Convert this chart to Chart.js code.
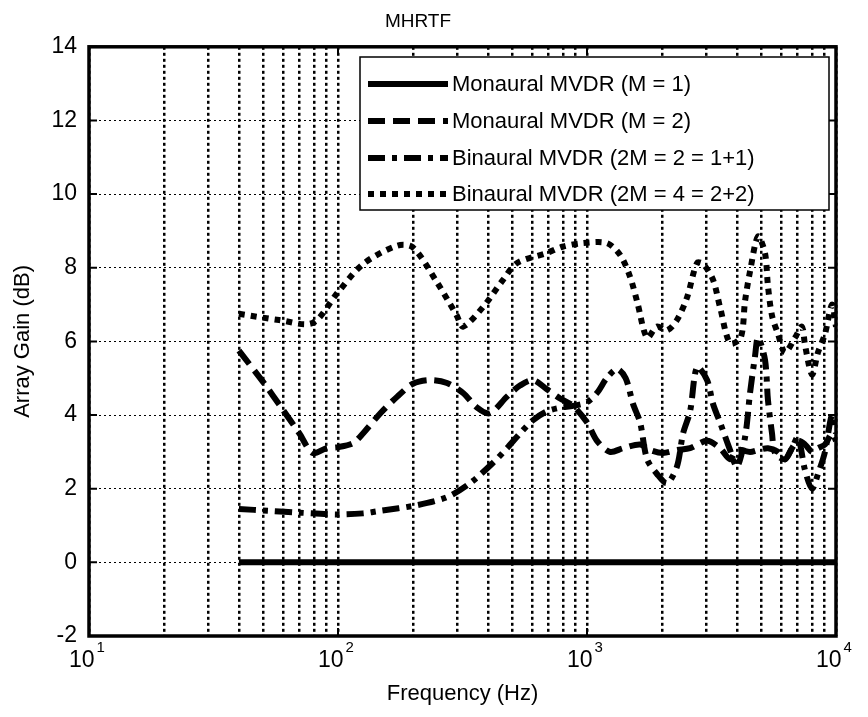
<!DOCTYPE html>
<html lang="en">
<head>
    <meta charset="UTF-8">
    <title>MHRTF</title>
    <script src="https://cdn.jsdelivr.net/npm/chart.js"></script>
    <style>
        body {
            margin: 0;
            background: #ffffff;
        }

        .chart-container {
            width: 868px;
            height: 717px;
            position: relative;
        }
    </style>
</head>
<body>
    <div class="chart-container">
        <canvas id="gainChart"></canvas>
    </div>

    <script>
        // values (frequency in Hz, gain in dB)
        const seriesLabels = [
            'Monaural MVDR (M = 1)',
            'Monaural MVDR (M = 2)',
            'Binaural MVDR (2M = 2 = 1+1)',
            'Binaural MVDR (2M = 4 = 2+2)'
        ];

        const freqM1 = [40, 10000];
        const gainM1 = [0, 0];

        const freqM2 = [40, 50, 60, 70, 79, 90, 100, 115, 126, 148, 173, 200, 234, 274, 318, 362, 407, 477, 538, 607,
            690, 780, 879, 1000, 1097, 1236, 1396, 1634, 1791, 2019, 2297, 2594, 3034, 3422, 3753, 4003, 4516, 4862,
            5331, 5848, 6240, 6656, 7035, 7509, 8010, 8466, 9031, 9633, 10000];
        const gainM2 = [5.75, 4.9, 4.15, 3.5, 2.97, 3.1, 3.13, 3.24, 3.5, 4.05, 4.5, 4.85, 4.95, 4.87, 4.6, 4.2, 4.05, 4.5, 4.8, 4.95,
            4.7, 4.45, 4.25, 3.8, 3.3, 3.0, 3.1, 3.2, 3.05, 2.97, 3.05, 3.1, 3.3, 3.1, 2.8, 3.05, 3.0, 3.05,
            3.1, 3.0, 2.8, 3.1, 3.3, 3.2, 3.0, 3.1, 3.2, 3.5, 3.3];

        const freqB2 = [40, 53, 70, 100, 126, 148, 207, 274, 339, 419, 477, 538, 607, 690, 780, 879, 1000, 1097, 1200, 1320,
            1430, 1531, 1634, 1743, 1910, 2095, 2297, 2431, 2594, 2767, 3034, 3208, 3422, 3753, 4003, 4313, 4516, 4729,
            4862, 5186, 5331, 5534, 5689, 6240, 6656, 7035, 7509, 8010, 8466, 9031, 9633, 10000];
        const gainB2 = [1.45, 1.4, 1.35, 1.3, 1.33, 1.4, 1.55, 1.77, 2.15, 2.7, 3.1, 3.5, 3.86, 4.1, 4.2, 4.25, 4.35, 4.6, 5.0, 5.25,
            5.0, 4.3, 3.8, 2.8, 2.4, 2.15, 2.6, 3.5, 4.1, 5.3, 4.95, 4.3, 3.8, 3.05, 2.6, 3.4, 4.6, 5.6,
            6.1, 5.5, 4.4, 3.5, 2.97, 2.8, 3.1, 3.4, 2.5, 2.0, 2.4, 3.0, 4.0, 3.5];

        const freqB4 = [40, 58, 79, 99, 126, 173, 200, 250, 300, 318, 382, 460, 524, 690, 797, 963, 1200, 1358, 1490, 1594,
            1743, 1910, 2095, 2297, 2524, 2767, 2930, 3208, 3422, 3753, 4143, 4313, 4516, 4862, 5186, 5331, 5534, 5848,
            6240, 6845, 7297, 7509, 8010, 8466, 9031, 9633, 10000];
        const gainB4 = [6.75, 6.58, 6.5, 7.3, 8.1, 8.6, 8.55, 7.6, 6.7, 6.4, 6.93, 7.67, 8.13, 8.4, 8.57, 8.67, 8.67, 8.35, 7.75, 7.05,
            6.1, 6.4, 6.3, 6.58, 7.2, 8.13, 8.1, 7.67, 6.93, 5.95, 6.1, 7.1, 7.9, 8.85, 8.4, 7.5, 6.7, 6.2,
            5.7, 6.1, 6.4, 5.9, 5.1, 5.7, 6.2, 7.0, 6.4];

        // tick labels
        const decades = [10, 100, 1000, 10000];
        const decadeExponents = ['1', '2', '3', '4'];
        const yTicks = [-2, 0, 2, 4, 6, 8, 10, 12, 14];

        const FONT = "Arial, 'Liberation Sans', Helvetica, sans-serif";

        // every 1..9 x decade gets a grid line
        const xGridValues = [];
        decades.forEach((d, i) => {
            if (i === decades.length - 1) {
                xGridValues.push(d);
                return;
            }
            for (let m = 1; m <= 9; m++) xGridValues.push(d * m);
        });

        function toPoints(freqs, gains) {
            return freqs.map((f, i) => ({ x: f, y: gains[i] }));
        }

        // frame, inward ticks, 10^n labels and the legend box
        const matlabAxes = {
            id: 'matlabAxes',
            afterDraw(chart) {
                const ctx = chart.ctx;
                const area = chart.chartArea;
                const xs = chart.scales.x;
                const ys = chart.scales.y;

                ctx.save();
                ctx.strokeStyle = '#000';

                // small inward tick marks
                ctx.lineWidth = 2;
                ctx.beginPath();
                yTicks.forEach(v => {
                    const py = ys.getPixelForValue(v);
                    ctx.moveTo(area.left, py);
                    ctx.lineTo(area.left + 8, py);
                    ctx.moveTo(area.right, py);
                    ctx.lineTo(area.right - 8, py);
                });
                decades.forEach(v => {
                    const px = xs.getPixelForValue(v);
                    ctx.moveTo(px, area.bottom);
                    ctx.lineTo(px, area.bottom - 8);
                    ctx.moveTo(px, area.top);
                    ctx.lineTo(px, area.top + 8);
                });
                ctx.stroke();

                // box
                ctx.lineWidth = 3.5;
                ctx.strokeRect(area.left, area.top, area.right - area.left, area.bottom - area.top);

                // x labels with exponents
                ctx.fillStyle = '#000';
                ctx.textBaseline = 'middle';
                decades.forEach((v, i) => {
                    const px = xs.getPixelForValue(v);
                    ctx.font = '23px ' + FONT;
                    const wBase = ctx.measureText('10').width;
                    ctx.font = '15px ' + FONT;
                    const wExp = ctx.measureText(decadeExponents[i]).width;
                    const start = px - 2 - (wBase + 2 + wExp) / 2;
                    ctx.font = '23px ' + FONT;
                    ctx.textAlign = 'left';
                    ctx.fillText('10', start, area.bottom + 25);
                    ctx.font = '15px ' + FONT;
                    ctx.fillText(decadeExponents[i], start + wBase + 2, area.bottom + 12);
                });

                // legend
                const box = { left: 360, top: 57, right: 829, bottom: 210 };
                ctx.fillStyle = '#fff';
                ctx.fillRect(box.left, box.top, box.right - box.left, box.bottom - box.top);
                ctx.lineWidth = 1.5;
                ctx.strokeRect(box.left, box.top, box.right - box.left, box.bottom - box.top);
                const rowY = [84, 121, 158, 194];
                chart.data.datasets.forEach((ds, i) => {
                    ctx.save();
                    ctx.lineWidth = ds.borderWidth;
                    ctx.setLineDash(ds.borderDash || []);
                    ctx.beginPath();
                    ctx.moveTo(368, rowY[i]);
                    ctx.lineTo(448, rowY[i]);
                    ctx.stroke();
                    ctx.restore();
                    ctx.fillStyle = '#000';
                    ctx.font = '22px ' + FONT;
                    ctx.textAlign = 'left';
                    ctx.textBaseline = 'middle';
                    ctx.fillText(ds.label, 452, rowY[i] + 1);
                });

                ctx.restore();
            }
        };

        const lineStyles = [
            { borderDash: [] },
            { borderDash: [17, 8] },
            { borderDash: [17, 7, 5, 7] },
            { borderDash: [6, 6] }
        ];
        const seriesPoints = [
            toPoints(freqM1, gainM1),
            toPoints(freqM2, gainM2),
            toPoints(freqB2, gainB2),
            toPoints(freqB4, gainB4)
        ];

        const chart = new Chart(document.getElementById('gainChart'), {
            type: 'line',
            data: {
                datasets: seriesPoints.map((pts, i) => ({
                    label: seriesLabels[i],
                    data: pts,
                    borderColor: '#000',
                    borderWidth: 6,
                    borderDash: lineStyles[i].borderDash,
                    borderCapStyle: 'butt',
                    pointRadius: 0,
                    tension: 0.3,
                    fill: false
                }))
            },
            options: {
                responsive: true,
                maintainAspectRatio: false,
                devicePixelRatio: 1,
                animation: false,
                layout: {
                    padding: { left: 0, right: 32, top: 0, bottom: 0 }
                },
                plugins: {
                    legend: { display: false },
                    tooltip: { enabled: false },
                    title: {
                        display: true,
                        text: 'MHRTF',
                        color: '#000',
                        font: { family: FONT, size: 19, weight: 'normal' },
                        padding: { top: 10, bottom: 14 }
                    }
                },
                scales: {
                    x: {
                        type: 'logarithmic',
                        min: 10,
                        max: 10000,
                        afterBuildTicks: (scale) => {
                            scale.ticks = xGridValues.map(v => ({ value: v }));
                        },
                        afterFit: (scale) => {
                            scale.height = 81;
                        },
                        ticks: { display: false },
                        grid: {
                            color: '#000',
                            lineWidth: 2.5,
                            drawTicks: false
                        },
                        border: { display: false, dash: [3, 3] },
                        title: {
                            display: true,
                            text: 'Frequency (Hz)',
                            color: '#000',
                            font: { family: FONT, size: 22 },
                            padding: { top: 0, bottom: 10 }
                        }
                    },
                    y: {
                        min: -2,
                        max: 14,
                        afterBuildTicks: (scale) => {
                            scale.ticks = yTicks.map(v => ({ value: v }));
                        },
                        afterFit: (scale) => {
                            scale.width = 89;
                        },
                        ticks: {
                            color: '#000',
                            padding: 12,
                            font: { family: FONT, size: 23 }
                        },
                        grid: {
                            color: '#000',
                            lineWidth: 1,
                            drawTicks: false
                        },
                        border: { display: false, dash: [2, 3] },
                        title: {
                            display: true,
                            text: 'Array Gain (dB)',
                            color: '#000',
                            font: { family: FONT, size: 22 },
                            padding: { top: 10, bottom: 0 }
                        }
                    }
                }
            },
            plugins: [matlabAxes]
        });
    </script>
</body>
</html>
